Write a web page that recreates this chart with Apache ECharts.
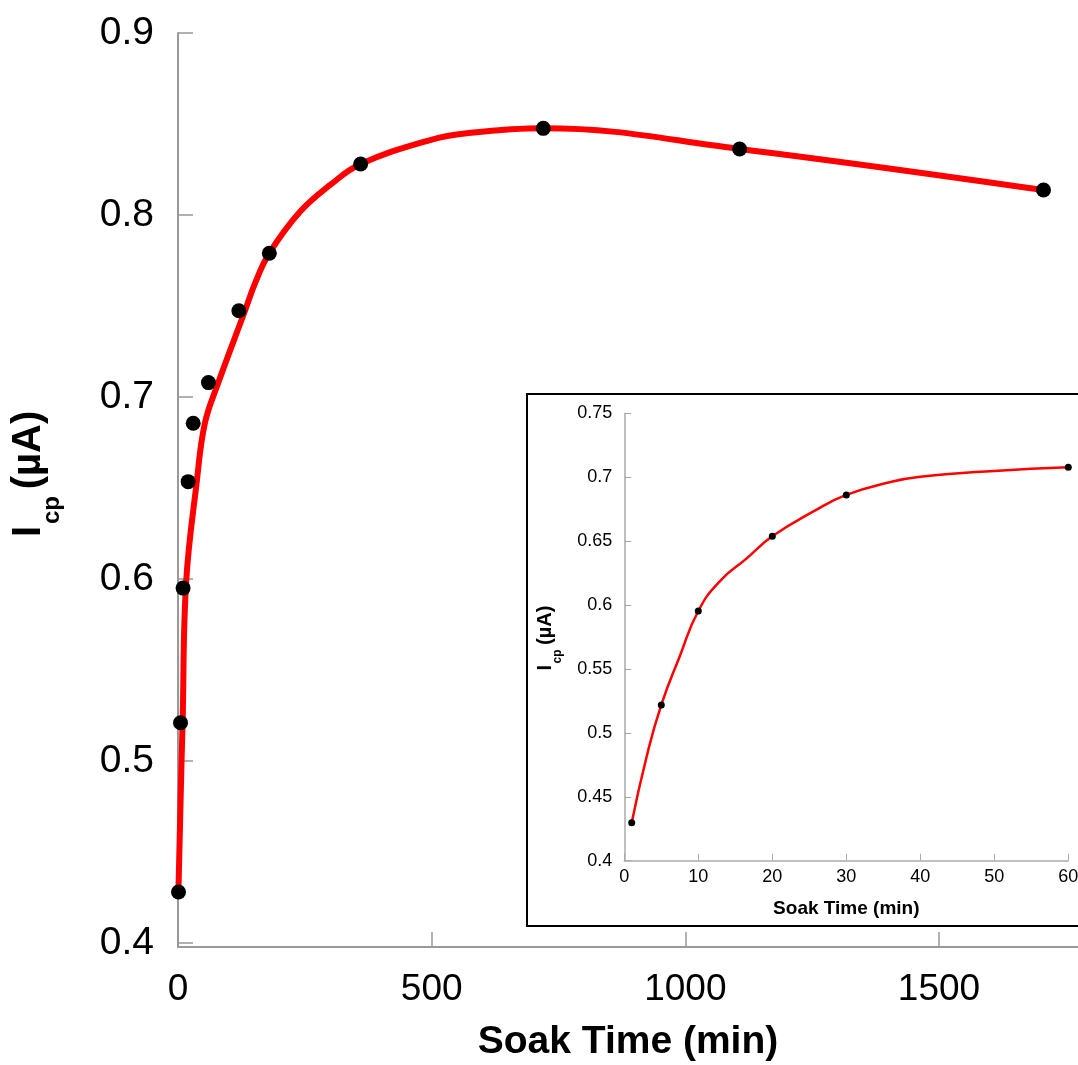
<!DOCTYPE html>
<html>
<head>
<meta charset="utf-8">
<script src="https://cdn.jsdelivr.net/npm/echarts@6/dist/echarts.min.js"></script>
<style>
  html, body { margin: 0; padding: 0; background: #fff; }
  #chart { width: 1078px; height: 1065px; }
</style>
</head>
<body>
<div id="chart"></div>
<script>
// ---- main chart data (Soak Time in min, Icp in µA) ----
const mainTime = [1, 5, 10, 20, 30, 60, 120, 180, 360, 720, 1107, 1706];
const mainIcp  = [0.428, 0.521, 0.595, 0.6535, 0.6856, 0.7079, 0.7474, 0.779, 0.828, 0.8476, 0.8363, 0.8137];
// red fitted curve
const mainFitTime = [1, 7, 9, 16, 37, 53, 79, 132, 152, 180, 240, 300, 360, 497, 569, 720, 1107, 1706];
const mainFitIcp  = [0.43, 0.50, 0.52, 0.598, 0.6535, 0.6856, 0.7075, 0.7474, 0.7626, 0.779, 0.8016, 0.8165, 0.828, 0.8412, 0.8449, 0.8476, 0.8363, 0.8137];
const mainXTicks = [0, 500, 1000, 1500];
const mainYTicks = [0.4, 0.5, 0.6, 0.7, 0.8, 0.9];

// ---- inset data ----
const insetTime = [1, 5, 10, 20, 30, 60];
const insetIcp  = [0.4297, 0.5219, 0.5954, 0.6538, 0.6862, 0.7078];
const insetFitTime = [1, 3, 5, 7.5, 10, 12.9, 16.5, 20, 25.5, 30, 36, 40, 50, 60];
const insetFitIcp  = [0.4297, 0.481, 0.5219, 0.560, 0.5954, 0.6186, 0.6364, 0.6538, 0.6731, 0.6862, 0.6963, 0.7004, 0.705, 0.7078];

const zip = (a, b) => a.map((v, i) => [v, b[i]]);
const FONT = "'Liberation Sans', Arial, Helvetica, sans-serif";
const AX = '#999';
const plain = v => String(v);

const chart = echarts.init(document.getElementById('chart'), null, { renderer: 'canvas' });

const rotText = (text, x, y, size) => ({
  type: 'text', x: x, y: y, rotation: Math.PI / 2, z: 10,
  style: { text: text, fontFamily: FONT, fontWeight: 'bold', fontSize: size, fill: '#000',
           align: 'center', verticalAlign: 'middle' }
});

chart.setOption({
  animation: false,
  backgroundColor: '#fff',
  grid: [
    { left: 178, top: 33, width: 900, height: 914, containLabel: false, outerBoundsMode: 'none' },
    { left: 624.3, top: 413.4, width: 444, height: 447.3, containLabel: false, outerBoundsMode: 'none' }
  ],
  xAxis: [
    {
      gridIndex: 0, type: 'value', min: 0, max: 1774,
      splitLine: { show: false },
      axisLine: { show: true, lineStyle: { color: AX, width: 2 } },
      axisTick: { show: true, inside: true, length: 15, customValues: mainXTicks, lineStyle: { color: AX, width: 1.5 } },
      axisLabel: { customValues: mainXTicks, formatter: plain, margin: 24, fontSize: 37, color: '#000', fontFamily: FONT },
      name: 'Soak Time (min)', nameLocation: 'middle', nameGap: 76,
      nameTextStyle: { fontSize: 39, fontWeight: 'bold', color: '#000', fontFamily: FONT }
    },
    {
      gridIndex: 1, type: 'value', min: 0, max: 60, interval: 10,
      splitLine: { show: false },
      axisLine: { show: true, lineStyle: { color: '#aaa', width: 1.5 } },
      axisTick: { show: true, inside: true, length: 7, lineStyle: { color: '#aaa', width: 1 } },
      axisLabel: { margin: 7, fontSize: 18, color: '#000', fontFamily: FONT },
      name: 'Soak Time (min)', nameLocation: 'middle', nameGap: 39,
      nameTextStyle: { fontSize: 19, fontWeight: 'bold', color: '#000', fontFamily: FONT }
    }
  ],
  yAxis: [
    {
      gridIndex: 0, type: 'value', min: 0.3978, max: 0.9,
      splitLine: { show: false },
      axisLine: { show: true, lineStyle: { color: AX, width: 2 } },
      axisTick: { show: true, inside: true, length: 15, customValues: mainYTicks, lineStyle: { color: AX, width: 1.5 } },
      axisLabel: { customValues: mainYTicks, formatter: plain, margin: 24, fontSize: 39, color: '#000', fontFamily: FONT }
    },
    {
      gridIndex: 1, type: 'value', min: 0.4, max: 0.75, interval: 0.05,
      splitLine: { show: false },
      axisLine: { show: true, lineStyle: { color: '#aaa', width: 1.5 } },
      axisTick: { show: true, inside: true, length: 7, lineStyle: { color: '#aaa', width: 1 } },
      axisLabel: { margin: 12, fontSize: 18, color: '#000', fontFamily: FONT }
    }
  ],
  graphic: [
    { type: 'rect', z: 1, shape: { x: 527, y: 394, width: 600, height: 532 },
      style: { fill: 'none', stroke: '#000', lineWidth: 2 } },
    rotText('I', 29, 531.5, 40),
    rotText('cp', 52.7, 510, 24),
    rotText('(µA)', 29, 450, 40),
    rotText('I', 545.7, 667.7, 20),
    rotText('cp', 557.4, 656.5, 12),
    rotText('(µA)', 545.7, 625.3, 20)
  ],
  series: [
    {
      type: 'line', xAxisIndex: 0, yAxisIndex: 0, data: zip(mainFitTime, mainFitIcp),
      smooth: 0.4, showSymbol: false, symbol: 'none',
      lineStyle: { color: '#ff0000', width: 6 }, z: 2
    },
    {
      type: 'scatter', xAxisIndex: 0, yAxisIndex: 0, data: zip(mainTime, mainIcp),
      symbol: 'circle', symbolSize: 15, itemStyle: { color: '#000', opacity: 1 }, z: 3
    },
    {
      type: 'line', xAxisIndex: 1, yAxisIndex: 1, data: zip(insetFitTime, insetFitIcp),
      smooth: 0.5, showSymbol: false, symbol: 'none',
      lineStyle: { color: '#ff0000', width: 2.5 }, z: 2
    },
    {
      type: 'scatter', xAxisIndex: 1, yAxisIndex: 1, data: zip(insetTime, insetIcp),
      symbol: 'circle', symbolSize: 7, itemStyle: { color: '#000', opacity: 1 }, z: 3
    }
  ]
});
</script>
</body>
</html>
